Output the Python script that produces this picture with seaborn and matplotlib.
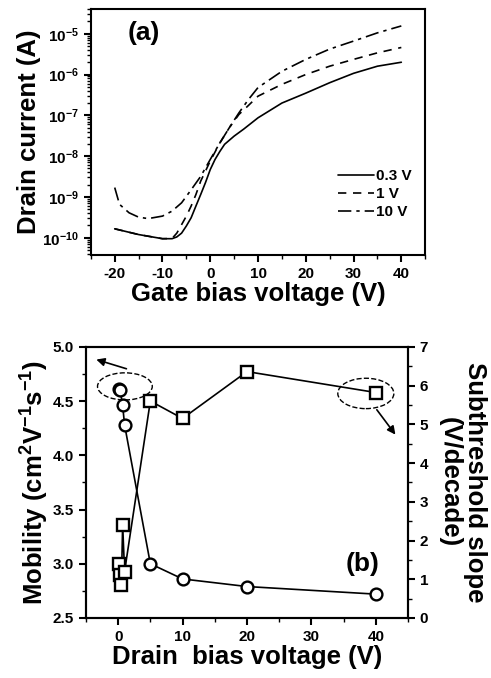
import numpy as np
import pandas as pd
import matplotlib
matplotlib.use("Agg")
import matplotlib.pyplot as plt
from matplotlib.patches import Ellipse
from matplotlib.ticker import MultipleLocator, LogLocator, NullFormatter, FormatStrFormatter
import seaborn as sns

# (a) transfer curves: gate voltage (V) vs drain current (A)
vg_03 = [-20, -15, -10, -8, -7, -6, -5, -4, -3, -2, -1, 0, 1, 2, 3, 5, 7, 10, 15, 20, 25, 30, 35, 40]
id_03 = [1.66e-10, 1.2e-10, 9.5e-11, 9.5e-11, 1.05e-10, 1.3e-10, 1.95e-10, 3.1e-10, 6.0e-10, 1.15e-9,
         2.25e-9, 4.7e-9, 8.3e-9, 1.3e-8, 1.95e-8, 3.1e-8, 4.6e-8, 8.7e-8, 2.0e-7, 3.5e-7, 6.3e-7,
         1.07e-6, 1.6e-6, 2.0e-6]
vg_1 = [-20, -15, -10, -8, -7, -6, -5, -4, -3, -2, -1, 0, 2, 4, 6, 8, 10, 15, 20, 25, 30, 35, 40]
id_1 = [1.66e-10, 1.2e-10, 9.5e-11, 9.6e-11, 1.3e-10, 2.1e-10, 3.4e-10, 6.0e-10, 1.15e-9, 2.45e-9,
        4.3e-9, 7.6e-9, 2.1e-8, 5.0e-8, 1.05e-7, 1.75e-7, 2.95e-7, 5.75e-7, 1.0e-6, 1.6e-6, 2.35e-6,
        3.4e-6, 4.6e-6]
vg_10 = [-20, -19, -17, -15, -13, -10, -8, -6, -4, -2, 0, 2, 4, 6, 8, 10, 15, 20, 25, 30, 35, 40]
id_10 = [1.7e-9, 6.6e-10, 4.1e-10, 3.2e-10, 2.95e-10, 3.4e-10, 4.5e-10, 7.2e-10, 1.5e-9, 3.2e-9,
         8.3e-9, 2.1e-8, 5.0e-8, 1.15e-7, 2.45e-7, 4.8e-7, 1.2e-6, 2.35e-6, 4.2e-6, 6.6e-6, 1.05e-5,
         1.55e-5]
curve_labels = ["0.3 V", "1 V", "10 V"]

# (b) mobility and subthreshold slope vs drain voltage
vd_mob = [0.1, 0.3, 0.7, 1, 5, 10, 20, 40]
mobility = [4.61, 4.60, 4.46, 4.28, 3.00, 2.86, 2.79, 2.72]
vd_ss = [0.1, 0.3, 0.5, 0.7, 1, 5, 10, 20, 40]
ss = [1.40, 1.12, 0.84, 2.41, 1.20, 5.60, 5.15, 6.36, 5.82]

sns.set_style("ticks")
plt.rcParams['font.family'] = ['Liberation Sans', 'DejaVu Sans']
plt.rcParams['font.weight'] = 'bold'
plt.rcParams['axes.linewidth'] = 1.5
plt.rcParams['axes.unicode_minus'] = False
plt.rcParams['mathtext.fontset'] = 'custom'
plt.rcParams['mathtext.rm'] = 'Liberation Sans:bold'
plt.rcParams['mathtext.bf'] = 'Liberation Sans:bold'
plt.rcParams['mathtext.default'] = 'bf'
for key in ['text.color', 'axes.labelcolor', 'axes.edgecolor', 'xtick.color', 'ytick.color']:
    plt.rcParams[key] = 'black'

fig = plt.figure(figsize=(4.91, 6.78), dpi=100)
ax1 = fig.add_axes([0.185, 0.624, 0.681, 0.363])
ax2 = fig.add_axes([0.175, 0.0885, 0.656, 0.4])

# ---- panel (a)
styles = ["-", (0, (5, 4)), (0, (8, 3, 2, 3))]
for xs, ys, lab, ls in zip([vg_03, vg_1, vg_10], [id_03, id_1, id_10], curve_labels, styles):
    sns.lineplot(x=xs, y=ys, ax=ax1, color="k", linestyle=ls, linewidth=1.2, label=lab)
ax1.set_yscale("log")
ax1.set_xlim(-25, 45)
ax1.set_ylim(10 ** -10.42, 10 ** -4.39)
ax1.xaxis.set_major_locator(MultipleLocator(10))
ax1.xaxis.set_minor_locator(MultipleLocator(5))
ax1.yaxis.set_major_locator(LogLocator(base=10, numticks=20))
ax1.yaxis.set_minor_locator(LogLocator(base=10, subs=np.arange(2, 10), numticks=20))
ax1.yaxis.set_minor_formatter(NullFormatter())
ax1.set_xlabel("Gate bias voltage (V)", fontsize=18.5, fontweight="bold", labelpad=1)
ax1.set_ylabel("Drain current (A)", fontsize=18.5, fontweight="bold", labelpad=1)
ax1.text(0.11, 0.9, "(a)", transform=ax1.transAxes, fontsize=19, fontweight="bold", va="center")
leg = ax1.legend(loc="lower right", bbox_to_anchor=(1.0, 0.09), frameon=False, handlelength=2.3,
                 handletextpad=0.15, labelspacing=0.25, prop={"weight": "bold", "size": 11})

# ---- panel (b)
sns.lineplot(x=vd_mob, y=mobility, ax=ax2, color="k", linewidth=1.2, marker="o", markersize=8.5,
             markerfacecolor="white", markeredgecolor="k", markeredgewidth=1.7)
ax2.set_xlim(-5, 45)
ax2.set_ylim(2.5, 5.0)
ax2.xaxis.set_major_locator(MultipleLocator(10))
ax2.xaxis.set_minor_locator(MultipleLocator(5))
ax2.yaxis.set_major_locator(MultipleLocator(0.5))
ax2.yaxis.set_minor_locator(MultipleLocator(0.25))
ax2.yaxis.set_major_formatter(FormatStrFormatter("%.1f"))
ax2.set_xlabel("Drain  bias voltage (V)", fontsize=18.5, fontweight="bold", labelpad=1)
ax2.set_ylabel("Mobility (cm$^2$V$^{-1}$s$^{-1}$)", fontsize=18.5, fontweight="bold", labelpad=1)

ax3 = ax2.twinx()
sns.lineplot(x=vd_ss, y=ss, ax=ax3, color="k", linewidth=1.2, marker="s", markersize=8.5,
             markerfacecolor="white", markeredgecolor="k", markeredgewidth=1.7, sort=False)
ax3.set_ylim(0, 7)
ax3.yaxis.set_major_locator(MultipleLocator(1))
ax3.yaxis.set_minor_locator(MultipleLocator(0.5))
ax3.set_ylabel("Subthreshold slope\n(V/decade)", fontsize=18.5, fontweight="bold", rotation=-90,
               labelpad=42, linespacing=1.05)
ax2.text(0.86, 0.2, "(b)", transform=ax2.transAxes, fontsize=19, fontweight="bold", va="center",
         ha="center")

ax2.add_patch(Ellipse((1.05, 4.635), 8.5, 0.25, fill=False, linestyle="--", linewidth=1.0, color="k"))
ax2.add_patch(Ellipse((38.45, 4.57), 8.7, 0.28, fill=False, linestyle="--", linewidth=1.0, color="k"))
ax2.annotate("", xy=(-3.8, 4.89), xytext=(1.7, 4.79),
             arrowprops=dict(arrowstyle="-|>", color="k", lw=1.2, mutation_scale=12))
ax2.annotate("", xy=(43.3, 4.17), xytext=(39.9, 4.44),
             arrowprops=dict(arrowstyle="-|>", color="k", lw=1.2, mutation_scale=12))

for ax in [ax1, ax2, ax3]:
    ax.tick_params(which="major", direction="out", length=5, width=1.5, labelsize=11)
    ax.tick_params(which="minor", direction="out", length=3, width=1.0)
    for lab in ax.get_xticklabels() + ax.get_yticklabels():
        lab.set_fontweight("bold")
ax1.tick_params(top=False, right=False)
ax2.tick_params(top=False, right=False)
for ax in [ax1, ax2]:
    ax.spines["top"].set_visible(True)
    ax.spines["right"].set_visible(True)

fig.savefig("out.png", dpi=100)
